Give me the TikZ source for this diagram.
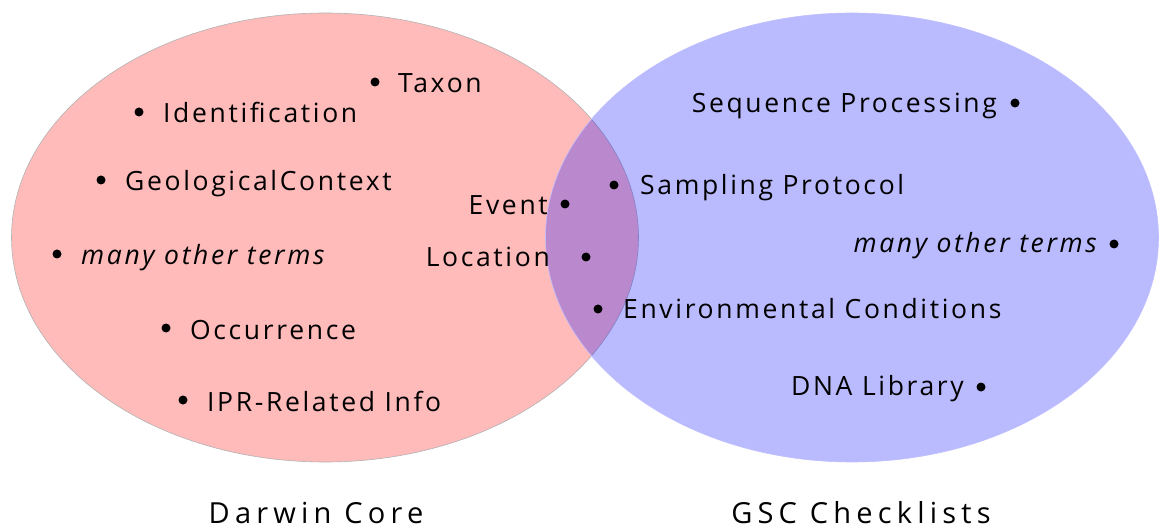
\documentclass[tikz,border=0pt]{standalone}
\usepackage{fontspec}
\setmainfont{Open Sans}[LetterSpace=10]
\newfontfamily\titlefont{Open Sans}[LetterSpace=18]
\begin{document}
\begin{tikzpicture}[x=1pt,y=-1pt,
  term/.style={inner sep=0pt, font=\fontsize{26.5}{30}\selectfont},
  title/.style={inner sep=0pt, font=\titlefont\fontsize{29}{33}\selectfont},
  dot/.style={circle, fill=black, inner sep=0pt, minimum size=9pt},
  setA/.style={fill=red, fill opacity=0.27, draw=black!30, line width=0.6pt},
  setB/.style={fill=blue, fill opacity=0.27, draw=blue!25, line width=0.6pt}]
\useasboundingbox (0,0) rectangle (1159,529);

% the two sets
\path[setA] (325,237.5) ellipse [x radius=313.5, y radius=224.5];
\path[setB] (852,237.5) ellipse [x radius=306.5, y radius=224.5];

% Darwin Core terms
\node[dot] (dTaxon) at (375,82) {};
\node[term, anchor=base west] (taxon) at (398,93) {Taxon};
\node[dot] (dIdent) at (139,112) {};
\node[term, anchor=base west] (ident) at (163,123) {Identification};
\node[dot] (dGeo) at (101,180) {};
\node[term, anchor=base west] (geo) at (125,191) {GeologicalContext};
\node[dot] (dOtherA) at (57,254) {};
\node[term, anchor=base west] (otherA) at (81,265) {\itshape many other terms};
\node[dot] (dOcc) at (166,328) {};
\node[term, anchor=base west] (occ) at (190,339) {Occurrence};
\node[dot] (dIpr) at (183,400) {};
\node[term, anchor=base west] (ipr) at (207,411) {IPR-Related Info};

% shared terms
\node[dot] (dEvent) at (565,204) {};
\node[term, anchor=base east] (event) at (548,215) {Event};
\node[dot] (dLoc) at (586,257) {};
\node[term, anchor=base east] (loc) at (550,267) {Location};
\node[dot] (dSamp) at (614,185) {};
\node[term, anchor=base west] (samp) at (640,195) {Sampling Protocol};
\node[dot] (dEnv) at (598,309) {};
\node[term, anchor=base west] (env) at (623,318) {Environmental Conditions};

% GSC checklist terms
\node[dot] (dSeq) at (1015,103) {};
\node[term, anchor=base east] (seq) at (997,113) {Sequence Processing};
\node[dot] (dOtherB) at (1114,244) {};
\node[term, anchor=base east] (otherB) at (1097,253) {\itshape many other terms};
\node[dot] (dDna) at (981,387) {};
\node[term, anchor=base east] (dna) at (964,395) {DNA Library};

% set names
\node[title, anchor=base] (darwin) at (316,523) {Darwin Core};
\node[title, anchor=base] (gsc) at (861,523) {GSC Checklists};
\end{tikzpicture}
\end{document}
